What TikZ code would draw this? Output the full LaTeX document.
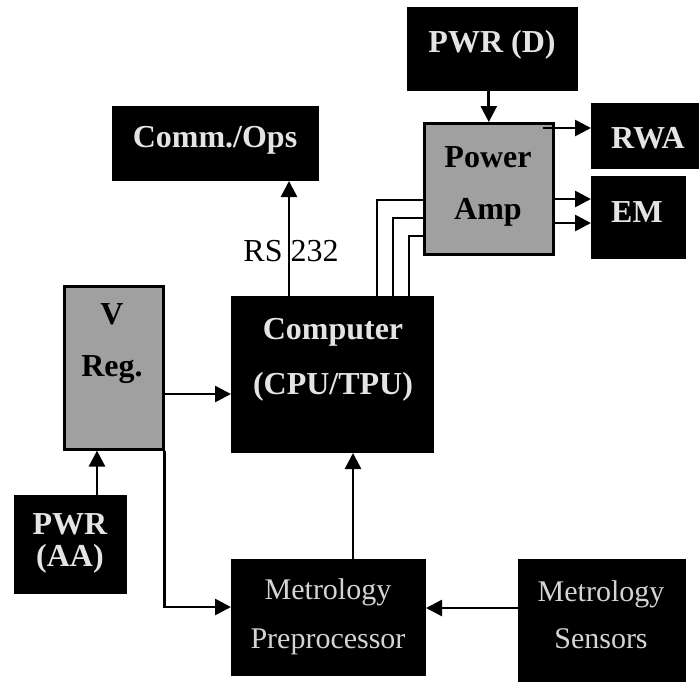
\documentclass[tikz,border=0pt]{standalone}
\usepackage{fontspec}
\setmainfont{Liberation Serif}
\usetikzlibrary{arrows.meta}
\definecolor{boxgray}{HTML}{A0A0A0}
\definecolor{lighttext}{HTML}{E4E4E4}
\definecolor{metrotext}{HTML}{D4D4D4}
\tikzset{
  blk/.style={draw=black, fill=black, line width=1pt, anchor=north west, inner sep=0pt, rectangle},
  gry/.style={draw=black, fill=boxgray, line width=2.6pt, anchor=north west, inner sep=0pt, rectangle},
  wtxt/.style={text=lighttext, font=\fontsize{32}{#1}\selectfont\bfseries, align=center, inner sep=0pt},
  wtxt/.default=52,
  btxt/.style={text=black, font=\fontsize{32}{52}\selectfont\bfseries, align=center, inner sep=0pt},
  mtxt/.style={text=metrotext, font=\fontsize{30}{#1}\selectfont, align=center, inner sep=0pt},
  mtxt/.default=49,
  wire/.style={line width=2.7pt, draw=black},
  arr/.style={wire, -{Triangle[length=16pt,width=16pt]}}
}
\begin{document}
\begin{tikzpicture}[x=1pt,y=-1pt]
\useasboundingbox (0,0) rectangle (699,681);
% boxes
\node[blk, minimum width=170pt, minimum height=83pt] (pwrd) at (407,7) {};
\node[blk, minimum width=206pt, minimum height=74pt] (comm) at (112,106) {};
\node[gry, minimum width=129pt, minimum height=131pt] (pamp) at (423,122) {};
\node[blk, minimum width=110pt, minimum height=65pt] (rwa) at (591,103) {};
\node[blk, minimum width=94pt, minimum height=82pt] (em) at (591,176) {};
\node[blk, minimum width=202pt, minimum height=156pt] (comp) at (231,296) {};
\node[gry, minimum width=99pt, minimum height=163pt] (vreg) at (63,285) {};
\node[blk, minimum width=112pt, minimum height=98pt] (pwraa) at (14,495) {};
\node[blk, minimum width=194pt, minimum height=116pt] (mpre) at (231,559) {};
\node[blk, minimum width=167pt, minimum height=125pt] (msens) at (518,559) {};
% texts
\node[wtxt] (pwrdT) at (492,45) {PWR (D)};
\node[wtxt] (commT) at (215,140) {Comm./Ops};
\node[btxt] (pampT) at (488,186) {Power\\Amp};
\node[wtxt] (rwaT) at (648,138) {RWA};
\node[wtxt] (emT) at (637,212) {EM};
\node[wtxt=55] (compT) at (333,360) {Computer\\(CPU/TPU)};
\node[btxt] (vregT) at (112,344) {V\\Reg.};
\node[wtxt=32] (pwraaT) at (70,543) {PWR\\(AA)};
\node[mtxt] (mpreT) at (328,617) {Metrology\\Preprocessor};
\node[mtxt=47] (msensT) at (601,615) {Metrology\\Sensors};
\node[text=black, font=\fontsize{32}{36}\selectfont, inner sep=0pt] (rsT) at (291,251) {RS 232};
% connectors
\coordinate (rwaS) at (543,128);
\draw[arr] (pamp.north |- pwrd.south) -- (pamp.north);
\draw[arr] (rwaS) -- (rwaS -| rwa.west);
\draw[arr] (pamp.east |- 0,199) -- (em.west |- 0,199);
\draw[arr] (pamp.east |- 0,223) -- (em.west |- 0,223);
\draw[wire] (comp.north -| 377,0) |- (pamp.west |- 0,200);
\draw[wire] (comp.north -| 393,0) |- (pamp.west |- 0,218);
\draw[wire] (comp.north -| 409,0) |- (pamp.west |- 0,236);
\draw[arr] (comp.north -| 289,0) -- (comm.south -| 289,0);
\draw[arr] (vreg.east |- 0,394) -- (comp.west |- 0,394);
\draw[arr] (pwraa.north -| 97,0) -- (vreg.south -| 97,0);
\draw[arr] (vreg.south east) |- (mpre.west |- 0,607);
\draw[arr] (msens.west |- 0,608) -- (mpre.east |- 0,608);
\draw[arr] (mpre.north -| 353,0) -- (comp.south -| 353,0);
\end{tikzpicture}
\end{document}
